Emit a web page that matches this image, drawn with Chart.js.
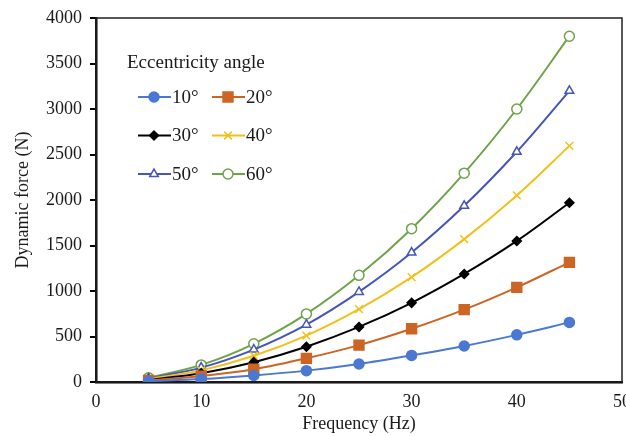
<!DOCTYPE html>
<html>
<head>
<meta charset="utf-8">
<script src="https://cdn.jsdelivr.net/npm/chart.js@4/dist/chart.umd.min.js"></script>
<style>
  html, body { margin: 0; padding: 0; background: #fff; }
  #wrap { width: 626px; height: 436px; }
</style>
</head>
<body>
<div id="wrap"><canvas id="chart" width="626" height="436"></canvas></div>
<script>
// Frequency (Hz) on x, dynamic force (N) on y
const freq = [5, 10, 15, 20, 25, 30, 35, 40, 45];
const f10 = [8, 32, 72, 125, 198, 292, 396, 518, 655];
const f20 = [16, 65, 140, 260, 405, 585, 795, 1040, 1315];
const f30 = [24, 97, 218, 388, 605, 870, 1187, 1550, 1970];
const f40 = [32, 128, 288, 510, 800, 1152, 1570, 2050, 2595];
const f50 = [40, 158, 356, 630, 990, 1422, 1936, 2530, 3200];
const f60 = [47, 188, 420, 748, 1172, 1685, 2295, 3000, 3800];
const labels = ['10°', '20°', '30°', '40°', '50°', '60°'];

const serif = '"Liberation Serif", "Times New Roman", serif';

function series(label, values, color, style, radius, fill) {
    return {
        label: label,
        data: freq.map((f, i) => ({ x: f, y: values[i] })),
        borderColor: color,
        backgroundColor: fill,
        pointBorderColor: color,
        pointBackgroundColor: fill,
        pointStyle: style,
        pointRadius: radius,
        pointBorderWidth: 1.5,
        borderWidth: 2,
        tension: 0.35,
        fill: false
    };
}

// Legend drawn inside the plot, two columns like the original figure
const insideLegend = {
    id: 'insideLegend',
    afterDraw(chart) {
        const ctx = chart.ctx;
        ctx.save();
        ctx.font = '19px ' + serif;
        ctx.fillStyle = '#1a1a1a';
        ctx.textBaseline = 'middle';
        ctx.textAlign = 'left';
        ctx.fillText('Eccentricity angle', 127, 63);
        chart.data.datasets.forEach((ds, i) => {
            const x0 = (i % 2) ? 212 : 138;
            const y = 97 + Math.floor(i / 2) * 38.5;
            ctx.strokeStyle = ds.borderColor;
            ctx.lineWidth = 2;
            ctx.beginPath();
            ctx.moveTo(x0, y);
            ctx.lineTo(x0 + 33, y);
            ctx.stroke();
            ctx.fillStyle = ds.pointBackgroundColor;
            ctx.strokeStyle = ds.pointBorderColor;
            ctx.lineWidth = ds.pointBorderWidth;
            Chart.helpers.drawPoint(ctx, {
                pointStyle: ds.pointStyle,
                radius: ds.pointRadius,
                borderWidth: ds.pointBorderWidth,
                rotation: 0
            }, x0 + 16, y);
            ctx.fillStyle = '#1a1a1a';
            ctx.fillText(ds.label, x0 + 34, y + 1);
        });
        ctx.restore();
    }
};

// Thin frame around the plot area
const plotFrame = {
    id: 'plotFrame',
    beforeDatasetsDraw(chart) {
        const a = chart.chartArea;
        const ctx = chart.ctx;
        ctx.save();
        ctx.strokeStyle = '#222';
        ctx.lineWidth = 1.5;
        ctx.strokeRect(a.left, a.top, a.right - a.left, a.bottom - a.top);
        ctx.restore();
    }
};

new Chart(document.getElementById('chart'), {
    type: 'line',
    data: {
        datasets: [
            series(labels[0], f10, '#4a78d2', 'circle', 5, '#4a78d2'),
            series(labels[1], f20, '#cc6524', 'rect', 7, '#cc6524'),
            series(labels[2], f30, '#000000', 'rectRot', 4.5, '#000000'),
            series(labels[3], f40, '#f2c01c', 'crossRot', 5.5, '#f2c01c'),
            series(labels[4], f50, '#4656b8', 'triangle', 5, '#ffffff'),
            series(labels[5], f60, '#6fa34a', 'circle', 5, '#ffffff')
        ]
    },
    options: {
        responsive: false,
        animation: false,
        layout: { autoPadding: false, padding: { left: 12, right: 4, top: 18, bottom: 1 } },
        plugins: {
            legend: { display: false },
            tooltip: { enabled: false }
        },
        scales: {
            x: {
                type: 'linear',
                min: 0,
                max: 50,
                ticks: {
                    stepSize: 10,
                    padding: 9,
                    color: '#1a1a1a',
                    font: { family: serif, size: 18 },
                    callback: v => String(v)
                },
                grid: { drawOnChartArea: false, drawTicks: false },
                border: { color: '#000', width: 2.5 },
                title: {
                    display: true,
                    text: 'Frequency (Hz)',
                    color: '#1a1a1a',
                    padding: 0,
                    font: { family: serif, size: 18 }
                },
                afterFit(scale) {
                    // let the last label run off the edge like the original figure
                    scale.height = 53;
                    scale.paddingLeft = 0;
                    scale.paddingRight = 0;
                }
            },
            y: {
                min: 0,
                max: 4000,
                ticks: {
                    stepSize: 500,
                    padding: 8,
                    color: '#1a1a1a',
                    font: { family: serif, size: 18 },
                    callback: v => String(v)
                },
                grid: { drawOnChartArea: false, tickLength: 6, color: '#000', lineWidth: 2 },
                border: { color: '#000', width: 2.5 },
                title: {
                    display: true,
                    text: 'Dynamic force (N)',
                    color: '#1a1a1a',
                    padding: 0,
                    font: { family: serif, size: 18 }
                },
                afterFit(scale) {
                    scale.width = 84;
                    scale.paddingTop = 0;
                    scale.paddingBottom = 0;
                }
            }
        }
    },
    plugins: [plotFrame, insideLegend]
});
</script>
</body>
</html>
